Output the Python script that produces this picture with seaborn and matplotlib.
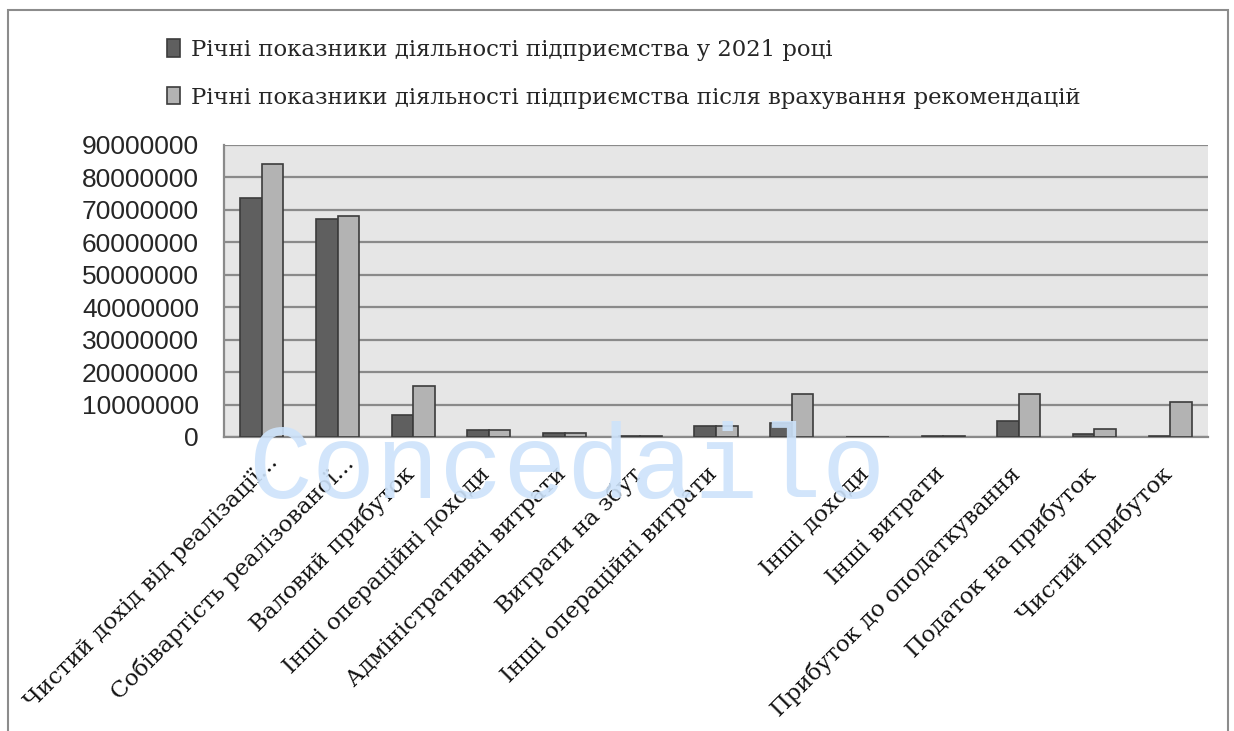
import matplotlib
matplotlib.use("Agg")
import matplotlib.pyplot as plt
import matplotlib.transforms as mtransforms
import numpy as np
import pandas as pd
import seaborn as sns
from matplotlib.patches import Rectangle
from matplotlib.ticker import FixedLocator, FuncFormatter

# Category labels (the eighth slot carries no caption)
categories = [
    "Чистий дохід від реалізації...",
    "Собівартість реалізованої...",
    "Валовий прибуток",
    "Інші операційні доходи",
    "Адміністративні витрати",
    "Витрати на збут",
    "Інші операційні витрати",
    " ",
    "Інші доходи",
    "Інші витрати",
    "Прибуток до оподаткування",
    "Податок на прибуток",
    "Чистий прибуток",
]

series_2021_name = "Річні показники діяльності підприємства у 2021 році"
series_rec_name = "Річні показники діяльності підприємства після врахування рекомендацій"

values_2021 = [73800000, 67300000, 6700000, 2300000, 1300000, 400000,
               3400000, 4300000, 0, 400000, 4800000, 900000, 400000]
values_rec = [84000000, 68200000, 15600000, 2200000, 1200000, 400000,
              3300000, 13100000, 0, 400000, 13100000, 2400000, 10700000]

y_ticks = list(range(0, 90000001, 10000000))

df = pd.DataFrame({
    "category": categories * 2,
    "series": [series_2021_name] * len(categories) + [series_rec_name] * len(categories),
    "value": values_2021 + values_rec,
})

sns.set_theme(style="white")
plt.rcParams["font.family"] = ["DejaVu Serif"]

fig = plt.figure(figsize=(12.34, 7.31), dpi=100)
ax = fig.add_axes([224 / 1234, 1 - 437 / 731, (1208 - 224) / 1234, (437 - 145) / 731])
ax.set_facecolor("#e6e6e6")

sns.barplot(
    data=df, x="category", y="value", hue="series",
    order=categories, hue_order=[series_2021_name, series_rec_name],
    palette=["#5f5f5f", "#b3b3b3"], width=0.57, gap=0,
    edgecolor="#3c3c3c", linewidth=1.2, ax=ax, zorder=3,
)

ax.set_xlim(-0.5, len(categories) - 0.5)
ax.set_ylim(0, 90000000)
ax.yaxis.set_major_locator(FixedLocator(y_ticks))
ax.yaxis.set_major_formatter(FuncFormatter(lambda v, p: f"{v:.0f}"))
ax.grid(axis="y", color="#8a8a8a", linewidth=1.6, zorder=1)
ax.set_axisbelow(True)
ax.set_xlabel("")
ax.set_ylabel("")

for s in ["top", "right"]:
    ax.spines[s].set_visible(False)
for s in ["left", "bottom"]:
    ax.spines[s].set_color("#8a8a8a")
    ax.spines[s].set_linewidth(1.6)

ax.tick_params(axis="y", which="major", direction="out", length=6, width=1.3,
               color="#8a8a8a", pad=12, labelsize=19)
for lab in ax.get_yticklabels():
    lab.set_fontfamily("Liberation Sans")

# x tick marks sit between categories, labels at category centres
ax.xaxis.set_minor_locator(FixedLocator(np.arange(-0.5, len(categories), 1.0)))
ax.tick_params(axis="x", which="minor", direction="out", length=7, width=1.3, color="#8a8a8a")
ax.tick_params(axis="x", which="major", length=0, pad=4)
ax.set_xticks(range(len(categories)))
ax.set_xticklabels(categories, rotation=45, ha="right", rotation_mode="anchor",
                   fontsize=16.5, family="DejaVu Serif", color="#111111")
for lab in ax.get_xticklabels():
    # truncated captions reach a little further along their diagonal
    if lab.get_text().endswith("..."):
        dx, dy = 5, -9
    else:
        dx, dy = -10, -20
    shift = mtransforms.ScaledTranslation(dx / 100, dy / 100, fig.dpi_scale_trans)
    lab.set_transform(lab.get_transform() + shift)

handles, labels = ax.get_legend_handles_labels()
ax.get_legend().remove()
fig.legend(handles, labels, loc="upper left", bbox_to_anchor=(158 / 1234, 1 - 30 / 731),
           frameon=False, fontsize=16.4, handlelength=0.55, handleheight=0.8,
           handletextpad=0.5, labelspacing=1.12, borderaxespad=0)

# Outer chart frame
fig.patches.append(Rectangle((8 / 1234, -0.02), 1220 / 1234, 1 - 10 / 731 + 0.02,
                             transform=fig.transFigure, fill=False,
                             edgecolor="#8c8c8c", linewidth=1.5))

# Watermark
fig.text(567 / 1234, 1 - 498 / 731, "Concedailo", family="Liberation Mono",
         fontsize=76.5, color="#cde3fb", alpha=0.9, ha="center", va="baseline", zorder=10)

fig.savefig("out.png", dpi=100)
